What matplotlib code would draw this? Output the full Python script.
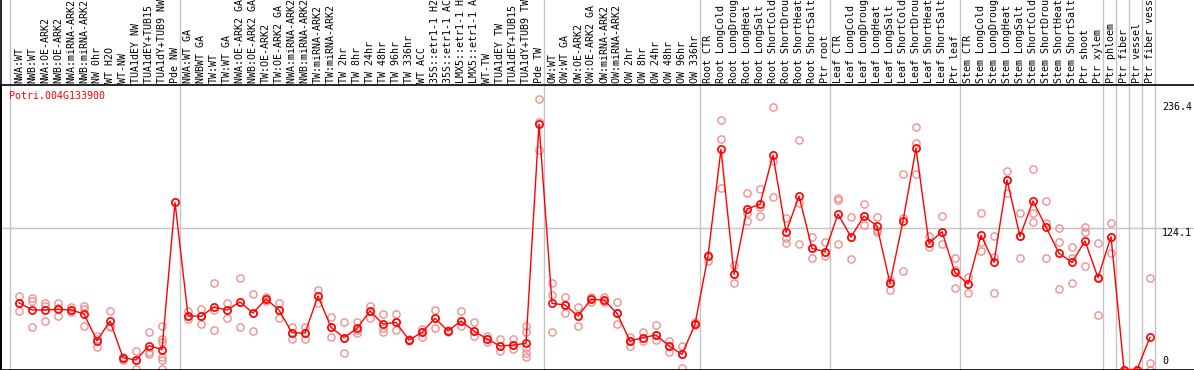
import matplotlib
matplotlib.use("Agg")
import matplotlib.pyplot as plt
import matplotlib.transforms as mtransforms

# etiquetas de las muestras (columnas)
labels = [
    "NWA:WT", "NWB:WT", "NWA:OE-ARK2", "NWB:OE-ARK2", "NWA:miRNA-ARK2", "NWB:miRNA-ARK2",
    "NW 0hr", "WT H2O", "WT-NW", "TUA1dEY NW", "TUA1dEY+TUB15 NW", "TUA1dY+TUB9 NW", "Pde NW",
    "NWA:WT GA", "NWBWT GA", "TW:WT", "TW:WT GA", "NWA:OE-ARK2 GA", "NWB:OE-ARK2 GA",
    "TW:OE-ARK2", "TW:OE-ARK2 GA", "NWA:miRNA-ARK2 GA", "NWB:miRNA-ARK2 GA", "TW:miRNA-ARK2",
    "TW:miRNA-ARK2 GA", "TW 2hr", "TW 8hr", "TW 24hr", "TW 48hr", "TW 96hr", "TW 336hr",
    "WT ACC", "35S::etr1-1 H2O", "35S::etr1-1 ACC", "LMX5::etr1-1 H2O", "LMX5::etr1-1 ACC",
    "WT-TW", "TUA1dEY TW", "TUA1dEY+TUB15 TW", "TUA1dY+TUB9 TW", "Pde TW",
    "OW:WT", "OW:WT GA", "OW:OE-ARK2", "OW:OE-ARK2 GA", "OW:miRNA-ARK2", "OW:miRNA-ARK2 GA",
    "OW 2hr", "OW 8hr", "OW 24hr", "OW 48hr", "OW 96hr", "OW 336hr",
    "Root CTR", "Root LongCold", "Root LongDrought", "Root LongHeat", "Root LongSalt",
    "Root ShortCold", "Root ShortDrought", "Root ShortHeat", "Root ShortSalt", "Ptr root",
    "Leaf CTR", "Leaf LongCold", "Leaf LongDrought", "Leaf LongHeat", "Leaf LongSalt",
    "Leaf ShortCold", "Leaf ShortDrought", "Leaf ShortHeat", "Leaf ShortSalt", "Ptr leaf",
    "Stem CTR", "Stem LongCold", "Stem LongDrought", "Stem LongHeat", "Stem LongSalt",
    "Stem ShortCold", "Stem ShortDrought", "Stem ShortHeat", "Stem ShortSalt", "Ptr shoot",
    "Ptr xylem", "Ptr phloem", "Ptr fiber", "Ptr vessel", "Ptr fiber vessel",
]

# media de cada muestra
means = [
    58.5, 52.1, 52.1, 52.7, 52.1, 48.6, 25.2, 42.4, 10.4, 8.3, 20.9, 17.4, 146.3,
    47.1, 46.5, 54.7, 52.1, 59.1, 49.4, 61.7, 52.1, 32.2, 31.9, 64.3, 36.9, 27.9,
    36.0, 51.2, 39.8, 41.3, 25.8, 32.5, 44.8, 33.7, 42.4, 33.7, 26.7, 20.6, 21.4,
    22.9, 214.9,
    57.9, 56.5, 46.8, 61.4, 60.8, 49.2, 24.9, 27.9, 30.2, 20.6, 13.3, 39.5,
    99.3, 192.7, 83.3, 140.5, 144.6, 187.7, 120.0, 151.8, 106.0, 103.1,
    136.1, 116.0, 134.3, 125.6, 75.4, 130.0, 193.6, 110.4, 120.6, 85.0,
    74.8, 117.4, 93.8, 165.9, 116.6, 147.5, 124.7, 101.7, 93.8, 112.5,
    80.4, 116.3, 0.0, 0.0, 28.2,
]

# replicas de cada muestra
reps = [
    [64.6, 58.5, 51.2], [62.9, 59.9, 37.2], [58.5, 55.6, 42.4], [57.9, 53.5, 47.1],
    [54.7, 52.1, 50.0], [55.9, 52.9, 37.8], [29.6, 26.6, 19.4], [51.2, 38.1, 36.9],
    [11.0, 10.4, 8.0], [16.2, 8.6, 0.1], [32.5, 15.0, 13.3],
    [37.8, 26.4, 23.7, 11.2, 8.3, 0.1], [146.3],
    [51.2, 47.1, 43.9], [52.9, 46.5, 39.5], [75.7, 52.1, 34.6], [58.5, 52.1, 44.8],
    [79.8, 59.1, 36.9], [65.8, 49.4, 33.7], [63.6, 61.7, 60.1], [58.5, 52.1, 45.4],
    [36.9, 32.2, 26.4], [37.5, 31.9, 26.4], [69.6, 64.3, 57.9], [45.7, 36.9, 28.2],
    [41.3, 27.9, 14.2], [41.3, 34.5, 32.2], [55.9, 51.2, 44.8], [48.6, 36.0, 33.0],
    [48.6, 41.3, 34.6], [26.4, 25.8, 25.2], [35.4, 32.5, 28.7], [52.1, 44.8, 36.0],
    [35.0, 33.7, 32.4], [51.2, 42.4, 37.8], [41.3, 33.7, 29.3], [29.6, 26.7, 23.8],
    [26.7, 20.6, 16.5], [26.7, 21.4, 17.6], [38.1, 32.5, 18.5, 14.2, 11.2],
    [236.4, 216.2, 192.1],
    [76.0, 65.2, 32.5], [63.2, 56.5, 49.2], [55.0, 46.8, 38.1], [63.6, 61.4, 59.4],
    [63.2, 60.8, 59.1], [58.8, 49.2, 39.5], [28.7, 24.9, 20.9], [33.0, 27.9, 24.9],
    [38.7, 30.2, 25.8], [25.2, 20.6, 15.0], [20.6, 13.3, 1.0], [41.3, 39.5, 38.7],
    [100.2, 99.3, 95.2], [218.4, 201.4, 158.6], [91.5, 83.3, 76.0], [154.2, 136.7, 130.0],
    [157.7, 141.9, 134.3], [229.4, 182.5, 150.7], [132.3, 114.8, 111.0],
    [200.9, 146.0, 109.8], [116.3, 106.0, 97.3], [111.3, 103.1, 99.6],
    [149.8, 148.4, 109.8], [133.8, 116.0, 96.7], [144.8, 134.3, 126.5],
    [133.8, 122.3, 120.6], [78.3, 75.4, 69.6], [171.1, 132.7, 86.2],
    [211.9, 197.9, 170.8], [117.1, 110.4, 107.5], [134.6, 120.6, 109.5],
    [97.3, 87.1, 71.0],
    [81.2, 74.8, 66.7], [136.7, 111.9, 104.0], [117.1, 98.8, 66.7], [173.7, 165.9, 154.2],
    [136.7, 116.6, 97.3], [175.5, 136.7, 128.8], [147.5, 128.5, 97.3],
    [123.5, 111.9, 70.2], [107.5, 97.3, 76.0], [124.4, 120.6, 90.9],
    [110.4, 81.2, 47.7], [127.9, 116.3, 102.2], [0.0, 0.0, 0.0], [0.0, 0.0, 0.0],
    [79.8, 5.4, 0.0],
]

# separadores de grupos (posicion en x de la columna)
separators = [-0.7, 12.4, 40.4, 52.4, 62.4, 72.4, 83.4, 84.4, 85.4, 86.4, 87.4]
ytick_vals = [236.4, 124.1, 0]
gene = "Potri.004G133900"

W, H = 1194, 370
fig = plt.figure(figsize=(W / 100, H / 100), dpi=100)
ax_top_px, ax_bot_px = 85, 369.5
ax = fig.add_axes([1 / W, (H - ax_bot_px) / H, (W - 1) / W, (ax_bot_px - ax_top_px) / H])
ax.set_xlim((1 - 19) / 13, (W - 19) / 13)
ax.set_ylim(0, 249.0)
ax.set_xticks([])
ax.set_yticks([])
ax.spines['right'].set_visible(False)
for s in ['left', 'top', 'bottom']:
    ax.spines[s].set_color('black')
    ax.spines[s].set_linewidth(1.2)

mono = 'DejaVu Sans Mono'
fs = 7.2
ext = ax_bot_px / (ax_bot_px - ax_top_px)  # hasta el borde superior de la figura

for xs in separators:
    ax.axvline(xs, 0, ext, color='#c4c4c4', lw=1.0, clip_on=False, zorder=1)
ax.axvline(ax.get_xlim()[0], 0, ext, color='black', lw=1.2, clip_on=False, zorder=1)
ax.axhline(124.1, color='#c4c4c4', lw=1.0, zorder=1)

# replicas
for i, r in enumerate(reps):
    ax.plot([i] * len(r), r, linestyle='none', marker='o', ms=5.2, mfc='none',
            mec='#ee9090', mew=1.0, zorder=2, clip_on=True)

# media
ax.plot(range(len(means)), means, color='red', lw=1.0, marker='o', ms=5.2,
        mfc='none', mec='red', mew=1.2, zorder=3)

# etiquetas verticales
lab_trans = mtransforms.blended_transform_factory(ax.transData, ax.transAxes)
lab_y = (ax_bot_px - 83) / (ax_bot_px - ax_top_px)
for i, lab in enumerate(labels):
    ax.text(i, lab_y, lab, rotation=90, ha='center', va='bottom', fontsize=fs,
            family=mono, color='black', transform=lab_trans, clip_on=False)

ax.text(8 / W, 0.978, gene, transform=ax.transAxes, ha='left', va='top',
        fontsize=fs, family=mono, color='red')

# valores del eje y a la derecha
yt_trans = mtransforms.blended_transform_factory(ax.transAxes, ax.transData)
for v in ytick_vals:
    if v == 0:
        tr = mtransforms.offset_copy(yt_trans, fig=fig, y=3, units='dots')
        va = 'bottom'
    elif v == max(ytick_vals):
        tr = mtransforms.offset_copy(yt_trans, fig=fig, y=-3, units='dots')
        va = 'top'
    else:
        tr = yt_trans
        va = 'top'
    ax.text((1163 - 1) / W, v, f"{v:g}", transform=tr, ha='left', va=va,
            fontsize=fs, family=mono, color='black')

fig.savefig('out.png', dpi=100)
